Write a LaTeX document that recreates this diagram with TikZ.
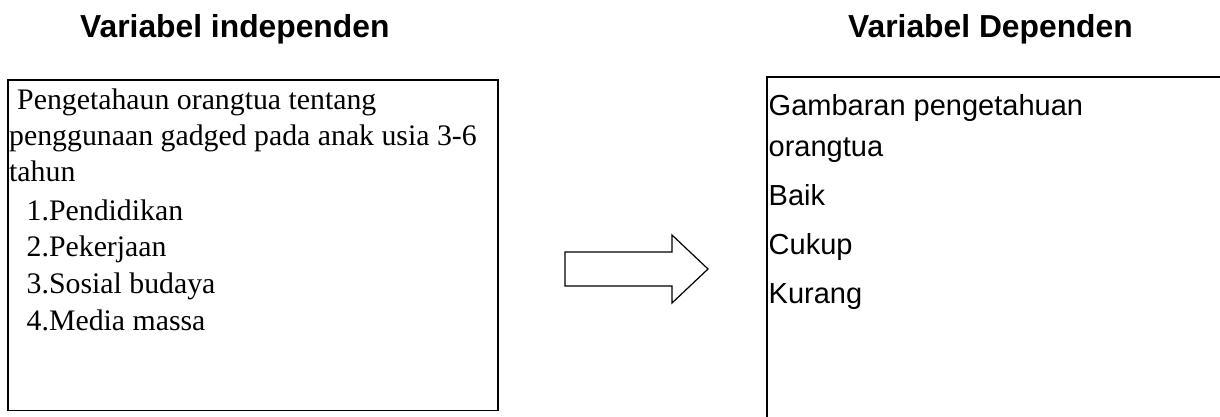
\documentclass[tikz,border=0pt]{standalone}
\usepackage{fontspec}
\setmainfont{Liberation Serif}
\newfontfamily\arialf{Liberation Sans}
\begin{document}
\begin{tikzpicture}[x=1pt,y=-1pt,
  heading/.style={anchor=base west, inner sep=0pt, font=\arialf\bfseries\fontsize{31.8}{38}\selectfont},
  lefttext/.style={anchor=base west, inner sep=0pt, font=\fontsize{29.8}{37}\selectfont},
  righttext/.style={anchor=base west, inner sep=0pt, font=\arialf\fontsize{29}{35}\selectfont},
  varbox/.style={draw, line width=1.5pt, anchor=north west, inner sep=0pt, outer sep=0pt},
  blockarrow/.style={draw, line width=1.2pt, line join=miter, fill=white}]
\useasboundingbox (0,0) rectangle (1220,416);
% headings
\node[heading] (h1) at (80,37) {Variabel independen};
\node[heading] (h2) at (848,37) {Variabel Dependen};
% boxes
\node[varbox, minimum width=490pt, minimum height=330.5pt] (indep) at (8,80) {};
\node[varbox, minimum width=470pt, minimum height=360pt] (dep) at (767,77) {};
% left text
\node[lefttext] (l1) at (17,109) {Pengetahaun orangtua tentang};
\node[lefttext] (l2) at (9,145.7) {penggunaan gadged pada anak usia 3-6};
\node[lefttext] (l3) at (9,181.7) {tahun};
\node[lefttext] (l4) at (26.5,220) {1.Pendidikan};
\node[lefttext] (l5) at (26.5,256.7) {2.Pekerjaan};
\node[lefttext] (l6) at (26.5,293.3) {3.Sosial budaya};
\node[lefttext] (l7) at (26.5,330.7) {4.Media massa};
% right text
\node[righttext] (r1) at (768.5,115) {Gambaran pengetahuan};
\node[righttext] (r2) at (768.5,156) {orangtua};
\node[righttext] (r3) at (768.5,205) {Baik};
\node[righttext] (r4) at (768.5,254) {Cukup};
\node[righttext] (r5) at (768.5,303) {Kurang};
% block arrow
\coordinate (atail) at (565,269);
\coordinate (atip) at (708,269);
\draw[blockarrow] (565,252) -- (672,252) -- (672,235) -- (atip) -- (672,303) -- (672,286) -- (565,286) -- cycle;
\end{tikzpicture}
\end{document}
